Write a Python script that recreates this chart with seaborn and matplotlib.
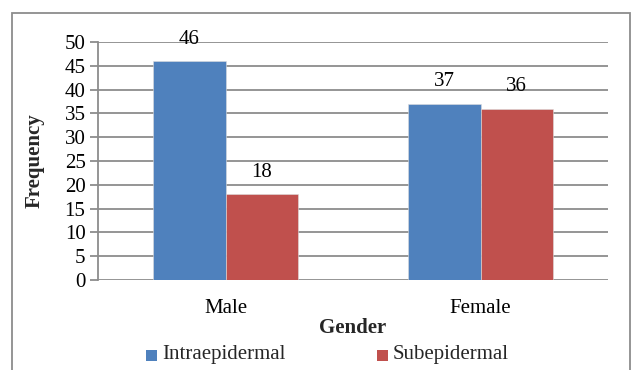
import matplotlib
matplotlib.use("Agg")
import matplotlib.pyplot as plt
import seaborn as sns
import pandas as pd
from matplotlib.patches import Rectangle

genders = ["Male", "Female"]
series = ["Intraepidermal", "Subepidermal"]
intraepidermal = [46, 37]
subepidermal = [18, 36]
yticks = [0, 5, 10, 15, 20, 25, 30, 35, 40, 45, 50]

df = pd.DataFrame({
    "Gender": genders * 2,
    "Type": [series[0]] * 2 + [series[1]] * 2,
    "Frequency": intraepidermal + subepidermal,
})

sns.set_style("white")
plt.rcParams["font.family"] = ["Liberation Serif", "DejaVu Serif"]

fig = plt.figure(figsize=(6.31, 3.70), dpi=100)
W, H = 631, 370
ax = fig.add_axes([98 / W, 1 - 280 / H, (608 - 98) / W, (280 - 42) / H])

palette = {"Intraepidermal": "#4F81BD", "Subepidermal": "#C0504D"}
sns.barplot(data=df, x="Gender", y="Frequency", hue="Type", order=genders,
            hue_order=series, palette=palette, width=0.57, saturation=1,
            ax=ax, legend=False, zorder=3, linewidth=0.4, edgecolor="#dddddd")

ax.set_xlim(-0.5, 1.5)
ax.set_ylim(0, 50)
ax.set_yticks(yticks)
ax.yaxis.grid(True, color="#8c8c8c", linewidth=1.3, zorder=0)
ax.set_axisbelow(True)
for side in ["top", "right", "bottom"]:
    ax.spines[side].set_visible(False)
ax.spines["left"].set_color("#8c8c8c")
ax.spines["left"].set_linewidth(1.3)
ax.tick_params(axis="y", left=True, length=6, width=1.3, color="#8c8c8c",
               labelsize=15, pad=3, labelcolor="black")
ax.tick_params(axis="x", bottom=False, labelsize=15, pad=10, labelcolor="black")

for container in ax.containers:
    for bar in container:
        h = bar.get_height()
        ax.annotate(f"{h:.0f}", (bar.get_x() + bar.get_width() / 2, h),
                    xytext=(0, 9), textcoords="offset points",
                    ha="center", va="bottom", fontsize=15, color="black")

ax.set_xlabel("Gender", fontsize=15, fontweight="bold", labelpad=0)
ax.set_ylabel("Frequency", fontsize=15, fontweight="bold", labelpad=14)

# legend along the bottom
leg_y = 1 - 355 / H
for (name, x0) in [(series[0], 146), (series[1], 377)]:
    fig.patches.append(Rectangle((x0 / W, leg_y - 5.5 / H), 11 / W, 11 / H,
                                 transform=fig.transFigure,
                                 facecolor=palette[name], edgecolor="none"))
    fig.text((x0 + 16) / W, leg_y, name, fontsize=15, va="center", ha="left")

# chart frame
fig.patches.append(Rectangle((12 / W, -0.05), (630 - 12) / W, 1.05 - 13 / H,
                             transform=fig.transFigure, fill=False,
                             edgecolor="#8c8c8c", linewidth=1.3))

fig.savefig("out.png", dpi=100)
